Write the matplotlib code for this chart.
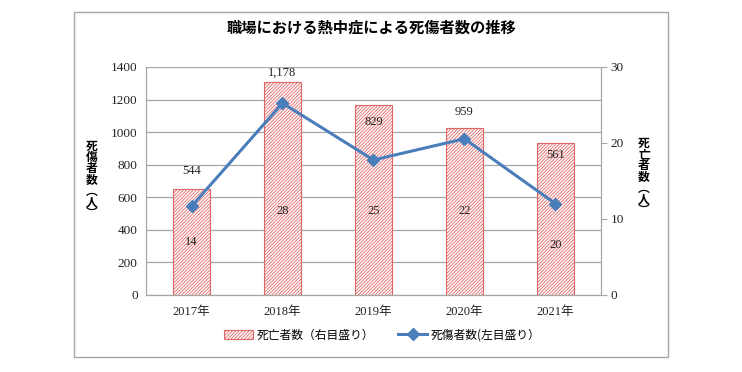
import matplotlib.pyplot as plt
from matplotlib.patches import Rectangle

# Data
years = ["2017年", "2018年", "2019年", "2020年", "2021年"]
deaths = [14, 28, 25, 22, 20]            # 死亡者数 (right axis)
casualties = [544, 1178, 829, 959, 561]  # 死傷者数 (left axis)
casualty_text = ["544", "1,178", "829", "959", "561"]
left_ticks = [0, 200, 400, 600, 800, 1000, 1200, 1400]
right_ticks = [0, 10, 20, 30]

# label placement (manual, as in the source chart)
casualty_label_dy = [13, 7, -12, 11, -9]      # points relative to bar top
death_label_y = [7, 11, 11, 11, 6.6]          # right-axis units

serif = ["Liberation Serif", "Noto Sans CJK JP"]
jp = ["Noto Sans CJK JP", "DejaVu Sans"]
plt.rcParams["hatch.linewidth"] = 0.6

fig = plt.figure(figsize=(7.42, 3.72), dpi=100)

# outer chart frame
fig.patches.append(Rectangle((0.0997, 0.040), 0.8005, 0.927, transform=fig.transFigure,
                             fill=False, edgecolor="#a6a6a6", lw=1.0))

ax_l = fig.add_axes([0.1968, 0.207, 0.613, 0.613])
ax_r = ax_l.twinx()
ax_l.set_zorder(ax_r.get_zorder() + 1)
ax_l.patch.set_visible(False)

x = list(range(len(years)))

# gridlines behind bars (left scale)
for v in left_ticks:
    ax_r.axhline(v * 30 / 1400, color="#a6a6a6", lw=0.9, zorder=0)

bars = ax_r.bar(x, deaths, width=0.4, facecolor="white", edgecolor="#e06666",
                hatch="//////////", lw=0.8, zorder=2, label="死亡者数（右目盛り）")
for xi, d, ly in zip(x, deaths, death_label_y):
    ax_r.text(xi, ly, str(d), ha="center", va="center", fontsize=9,
              family=serif, color="#222222", zorder=3)
for xi, d, t, dy in zip(x, deaths, casualty_text, casualty_label_dy):
    ax_r.annotate(t, (xi, d), xytext=(0, dy), textcoords="offset points",
                  ha="center", va="center", fontsize=9, family=serif,
                  color="#222222", zorder=3)

line, = ax_l.plot(x, casualties, color="#4a7ebb", lw=2.2, marker="D",
                  markersize=6.5, label="死傷者数(左目盛り）")

ax_l.set_xlim(-0.5, 4.5)
ax_l.set_ylim(0, 1400)
ax_r.set_ylim(0, 30)
ax_l.set_yticks(left_ticks)
ax_r.set_yticks(right_ticks)
ax_l.set_xticks(x)
ax_l.set_xticklabels(years)

for a in (ax_l, ax_r):
    for s in a.spines.values():
        s.set_color("#a6a6a6")
    a.spines["top"].set_visible(False)

ax_l.tick_params(axis="y", length=0, pad=6, labelsize=9.5)
ax_l.tick_params(axis="x", length=0, pad=8, labelsize=9)
ax_r.tick_params(axis="y", length=4, color="#a6a6a6", pad=3, labelsize=9.5)
for lab in ax_l.get_yticklabels() + ax_r.get_yticklabels() + ax_l.get_xticklabels():
    lab.set_family(serif)
    lab.set_color("#222222")

# vertical axis titles
fig.text(92 / 742, 1 - 180 / 372, "死\n傷\n者\n数\n︵\n人\n︶", ha="center", va="center",
         fontsize=8.5, fontweight="bold", family=jp, linespacing=0.82)
fig.text(644 / 742, 1 - 177 / 372, "死\n亡\n者\n数\n︵\n人\n︶", ha="center", va="center",
         fontsize=8.5, fontweight="bold", family=jp, linespacing=0.82)

fig.text(0.501, 1 - 28 / 372, "職場における熱中症による死傷者数の推移", ha="center",
         va="center", fontsize=11, fontweight="bold", family=jp)

leg = fig.legend([bars, line], ["死亡者数（右目盛り）", "死傷者数(左目盛り）"],
                 loc="center", bbox_to_anchor=(0.515, 1 - 335 / 372), ncol=2,
                 frameon=False, prop={"family": jp, "size": 8.5},
                 handlelength=2.5, columnspacing=2.0, handletextpad=0.3)

fig.savefig("out.png", dpi=100)
